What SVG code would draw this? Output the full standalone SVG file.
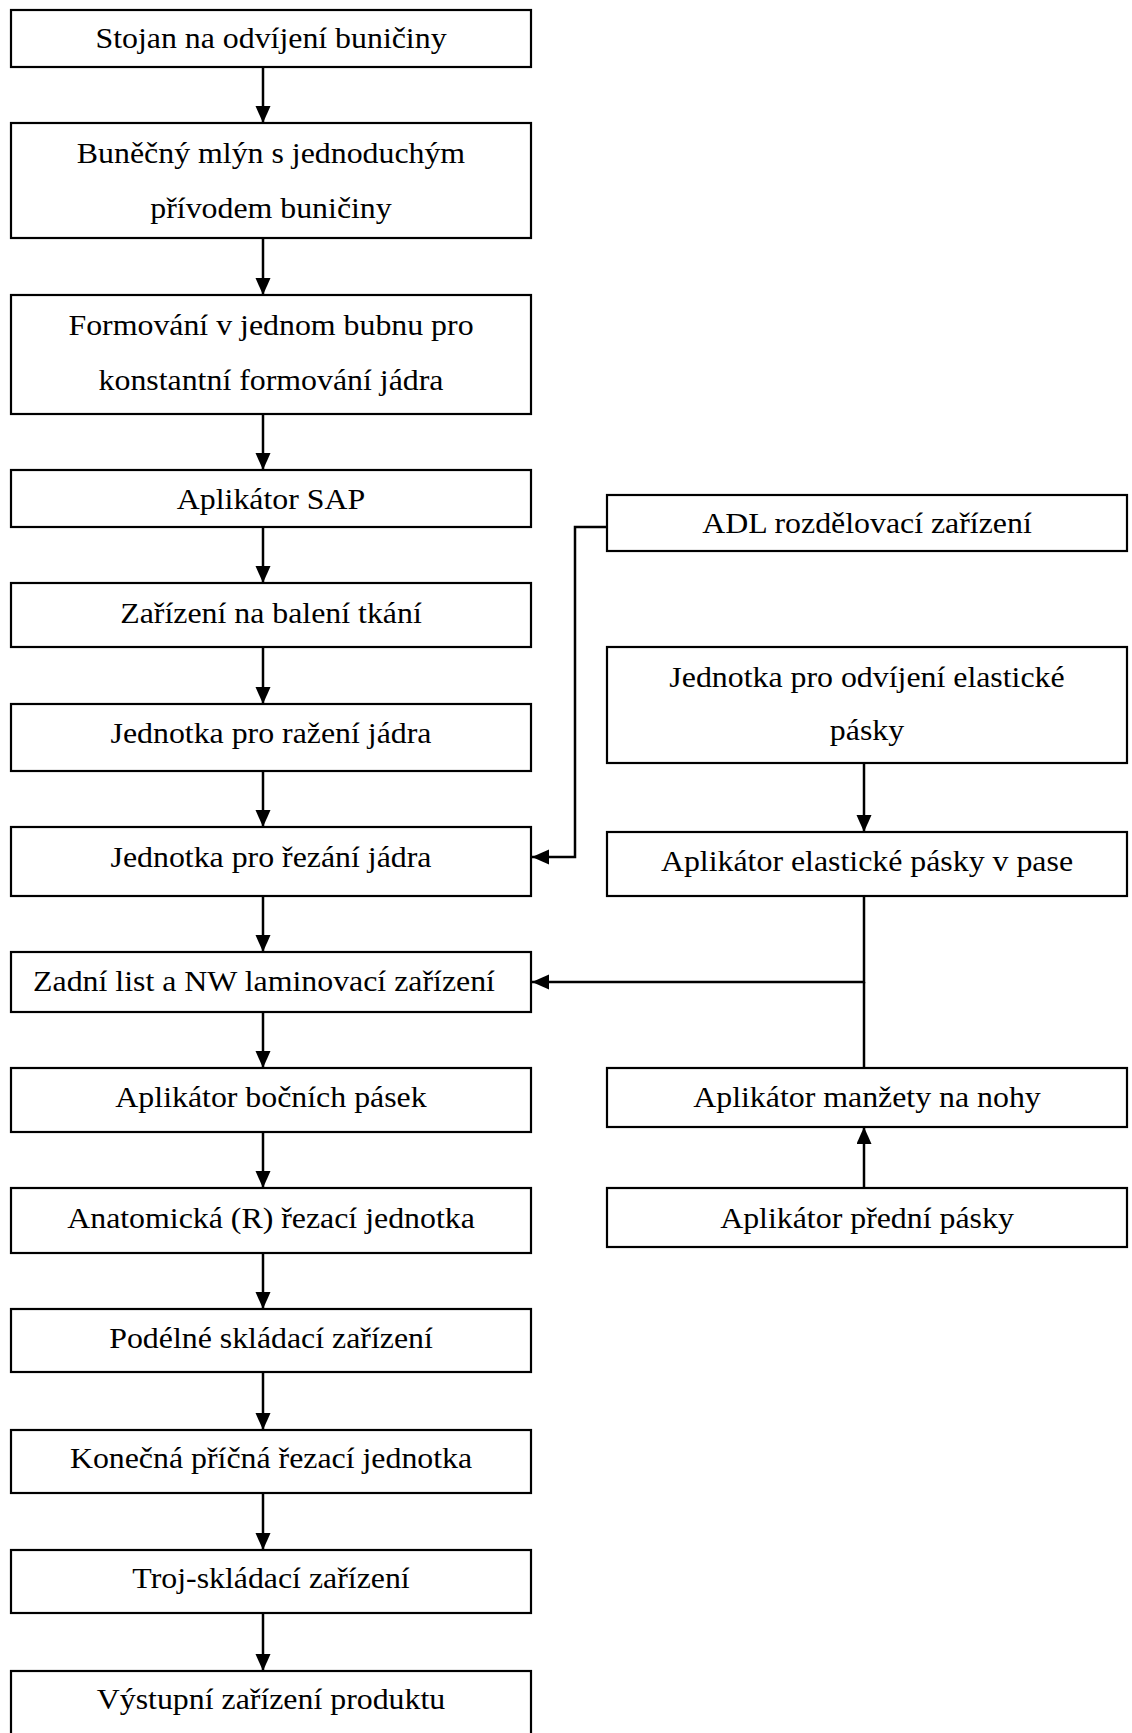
<svg xmlns="http://www.w3.org/2000/svg" width="1132" height="1733" viewBox="0 0 1132 1733">
<style>
.box{fill:#fff;stroke:#000;stroke-width:2.2}
.t{font-family:"Liberation Serif","Times New Roman",serif;font-size:29.5px;fill:#000;text-anchor:middle}
.c{fill:none;stroke:#000;stroke-width:2.5}
</style>
<defs>
<marker id="ah" markerUnits="userSpaceOnUse" markerWidth="18" markerHeight="16" refX="17" refY="7.5" orient="auto">
<path d="M0,0 L17,7.5 L0,15 z" fill="#000"/>
</marker>
</defs>
<rect width="1132" height="1733" fill="#fff"/>
<g id="connectors">
<path class="c" d="M263,67 V123" marker-end="url(#ah)"/>
<path class="c" d="M263,238 V295" marker-end="url(#ah)"/>
<path class="c" d="M263,414 V470" marker-end="url(#ah)"/>
<path class="c" d="M263,527 V583" marker-end="url(#ah)"/>
<path class="c" d="M263,647 V704" marker-end="url(#ah)"/>
<path class="c" d="M263,771 V827" marker-end="url(#ah)"/>
<path class="c" d="M263,896 V952" marker-end="url(#ah)"/>
<path class="c" d="M263,1012 V1068" marker-end="url(#ah)"/>
<path class="c" d="M263,1132 V1188" marker-end="url(#ah)"/>
<path class="c" d="M263,1253 V1309" marker-end="url(#ah)"/>
<path class="c" d="M263,1372 V1430" marker-end="url(#ah)"/>
<path class="c" d="M263,1493 V1550" marker-end="url(#ah)"/>
<path class="c" d="M263,1613 V1671" marker-end="url(#ah)"/>
<path class="c" d="M607,527 H575 V857 H532" marker-end="url(#ah)"/>
<path class="c" d="M864,763 V832" marker-end="url(#ah)"/>
<path class="c" d="M864,896 V982 H532" marker-end="url(#ah)"/>
<path class="c" d="M864,1068 V982"/>
<path class="c" d="M864,1188 V1127" marker-end="url(#ah)"/>
</g>
<g id="n1"><rect class="box" x="11" y="10" width="520" height="57"/><text class="t" transform="translate(271,48) scale(1.08,1)">Stojan na odvíjení buničiny</text></g>
<g id="n2"><rect class="box" x="11" y="123" width="520" height="115"/><text class="t" transform="translate(271,163) scale(1.08,1)">Buněčný mlýn s jednoduchým</text><text class="t" transform="translate(271,218) scale(1.08,1)">přívodem buničiny</text></g>
<g id="n3"><rect class="box" x="11" y="295" width="520" height="119"/><text class="t" transform="translate(271,335) scale(1.08,1)">Formování v jednom bubnu pro</text><text class="t" transform="translate(271,390) scale(1.08,1)">konstantní formování jádra</text></g>
<g id="n4"><rect class="box" x="11" y="470" width="520" height="57"/><text class="t" transform="translate(271,509) scale(1.08,1)">Aplikátor SAP</text></g>
<g id="n5"><rect class="box" x="11" y="583" width="520" height="64"/><text class="t" transform="translate(271,623) scale(1.08,1)">Zařízení na balení tkání</text></g>
<g id="n6"><rect class="box" x="11" y="704" width="520" height="67"/><text class="t" transform="translate(271,743) scale(1.08,1)">Jednotka pro ražení jádra</text></g>
<g id="n7"><rect class="box" x="11" y="827" width="520" height="69"/><text class="t" transform="translate(271,867) scale(1.08,1)">Jednotka pro řezání jádra</text></g>
<g id="n8"><rect class="box" x="11" y="952" width="520" height="60"/><text class="t" transform="translate(264,991) scale(1.08,1)">Zadní list a NW laminovací zařízení</text></g>
<g id="n9"><rect class="box" x="11" y="1068" width="520" height="64"/><text class="t" transform="translate(271,1107) scale(1.08,1)">Aplikátor bočních pásek</text></g>
<g id="n10"><rect class="box" x="11" y="1188" width="520" height="65"/><text class="t" transform="translate(271,1228) scale(1.08,1)">Anatomická (R) řezací jednotka</text></g>
<g id="n11"><rect class="box" x="11" y="1309" width="520" height="63"/><text class="t" transform="translate(271,1348) scale(1.08,1)">Podélné skládací zařízení</text></g>
<g id="n12"><rect class="box" x="11" y="1430" width="520" height="63"/><text class="t" transform="translate(271,1468) scale(1.08,1)">Konečná příčná řezací jednotka</text></g>
<g id="n13"><rect class="box" x="11" y="1550" width="520" height="63"/><text class="t" transform="translate(271,1588) scale(1.08,1)">Troj-skládací zařízení</text></g>
<g id="n14"><rect class="box" x="11" y="1671" width="520" height="75"/><text class="t" transform="translate(271,1709) scale(1.08,1)">Výstupní zařízení produktu</text></g>
<g id="r1"><rect class="box" x="607" y="495" width="520" height="56"/><text class="t" transform="translate(867,533) scale(1.08,1)">ADL rozdělovací zařízení</text></g>
<g id="r2"><rect class="box" x="607" y="647" width="520" height="116"/><text class="t" transform="translate(867,687) scale(1.08,1)">Jednotka pro odvíjení elastické</text><text class="t" transform="translate(867,740) scale(1.08,1)">pásky</text></g>
<g id="r3"><rect class="box" x="607" y="832" width="520" height="64"/><text class="t" transform="translate(867,871) scale(1.08,1)">Aplikátor elastické pásky v pase</text></g>
<g id="r4"><rect class="box" x="607" y="1068" width="520" height="59"/><text class="t" transform="translate(867,1107) scale(1.08,1)">Aplikátor manžety na nohy</text></g>
<g id="r5"><rect class="box" x="607" y="1188" width="520" height="59"/><text class="t" transform="translate(867,1228) scale(1.08,1)">Aplikátor přední pásky</text></g>
</svg>
